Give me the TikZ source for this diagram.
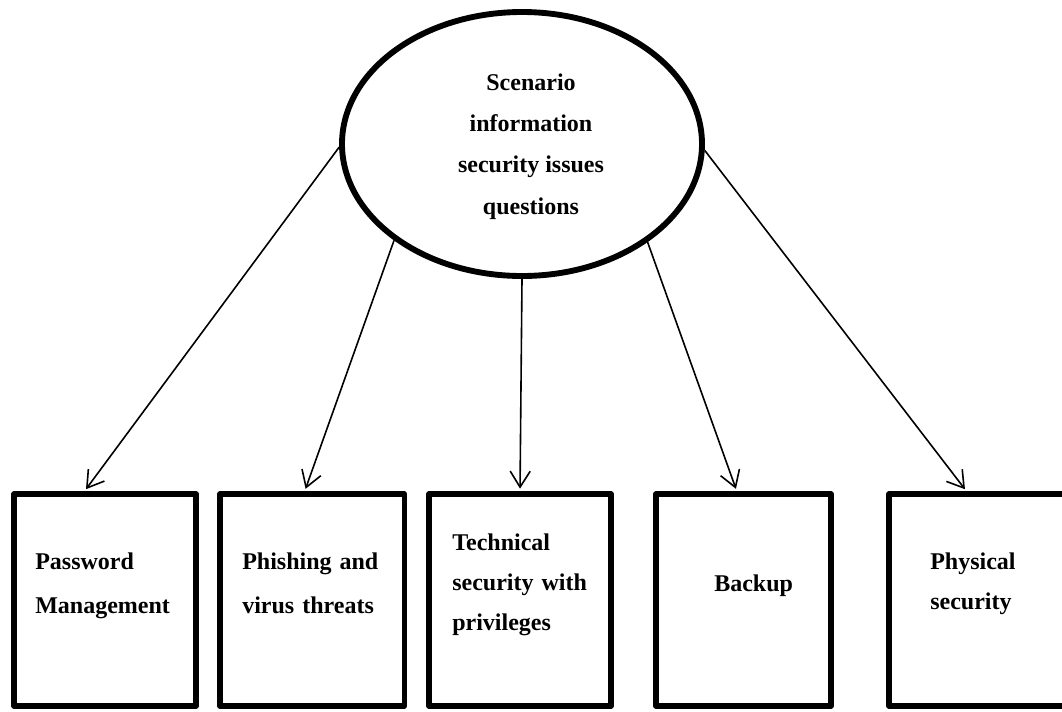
\documentclass[tikz,border=0pt]{standalone}
\usepackage{fontspec}
\setmainfont{Liberation Serif}
\usetikzlibrary{shapes.geometric,arrows.meta,calc}
\begin{document}
\begin{tikzpicture}[x=0.75pt,y=-0.75pt,
  bigoval/.style={draw,ellipse,line width=4.4pt,minimum width=270pt,minimum height=198pt,inner sep=0pt,
    font=\bfseries\fontsize{18pt}{31pt}\selectfont},
  box/.style={draw,rectangle,line width=4pt,line join=round,minimum height=159pt,inner sep=0pt},
  lbl/.style={anchor=base west,inner sep=0pt,align=left,text width=150pt,
    font=\bfseries\fontsize{18pt}{33pt}\selectfont},
  lbltight/.style={lbl,font=\bfseries\fontsize{18pt}{30pt}\selectfont},
  conn/.style={-{Straight Barb[length=12pt,width=15pt]},line width=1.2pt,shorten >=2pt}
]
\useasboundingbox (0,0) rectangle (1062,711);

\node[bigoval] (e) at (522,144) {\hspace*{13.5pt}\begin{tabular}{@{}c@{}}Scenario\\information\\security issues\\questions\end{tabular}};

\node[box,minimum width=136.5pt] (b1) at (105,600) {};
\node[box,minimum width=138.4pt] (b2) at (312.25,600) {};
\node[box,minimum width=136.5pt] (b3) at (520,600) {};
\node[box,minimum width=131.25pt] (b4) at (743.5,600) {};
\node[box,minimum width=135pt] (b5) at (979,600) {};

\node[lbl] (t1) at (35,569) {Password\\Management};
\node[lbl] (t2) at (242,569) {Phishing and\\virus threats};
\node[lbltight] (t3) at (452,550) {Technical\\security with\\privileges};
\node[lbl] (t4) at (714,591) {Backup};
\node[lbltight] (t5) at (930,569) {Physical\\security};

\draw[conn] (e.181) -- ($(b1.north west)!0.39!(b1.north east)$);
\draw[conn] (e.217.4) -- ($(b2.north west)!0.46!(b2.north east)$);
\draw[conn] (e.270) -- ($(b3.north west)!0.5!(b3.north east)$);
\draw[conn] (e.322.6) -- ($(b4.north west)!0.463!(b4.north east)$);
\draw[conn] (e.358.7) -- ($(b5.north west)!0.433!(b5.north east)$);
\end{tikzpicture}
\end{document}
